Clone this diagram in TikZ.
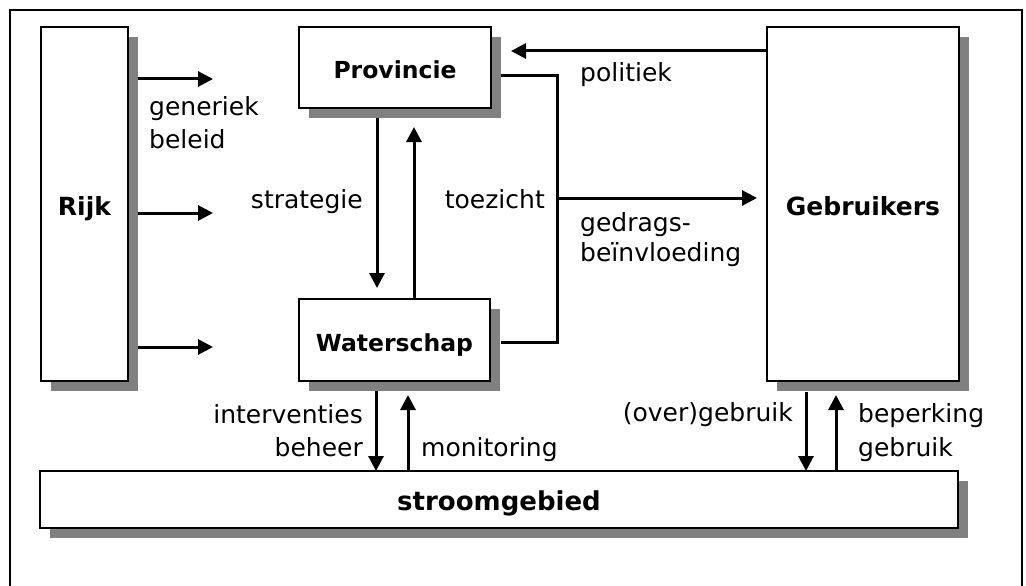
\documentclass[tikz,border=0pt]{standalone}
\usepackage{fontspec}
\setmainfont{DejaVu Sans}
\usetikzlibrary{arrows.meta,shadows}
\definecolor{shadowgray}{HTML}{808080}
\begin{document}
\begin{tikzpicture}[x=1pt,y=-1pt,
  box/.style={draw=black,line width=1.6pt,fill=white,inner sep=0pt,
    text height=22pt,text depth=0pt,
    drop shadow={shadow xshift=10pt,shadow yshift=-10pt,fill=shadowgray,opacity=1}},
  midname/.style={font=\bfseries\fontsize{23.5}{28}\selectfont},
  bigname/.style={font=\bfseries\fontsize{25}{30}\selectfont},
  lbl/.style={inner sep=0pt,font=\fontsize{25}{33}\selectfont},
  arr/.style={line width=3pt,-{Triangle[length=15pt,width=15pt]}},
  conn/.style={line width=3pt},
]
\useasboundingbox (0,0) rectangle (1026,586);
\draw[line width=2.6pt] (10,600) -- (10,10) -- (1022,10) -- (1022,600);

% boxes
\node[box,bigname,minimum width=87pt,minimum height=354pt] (rijk) at (84.5,204) {Rijk};
\node[box,midname,minimum width=192pt,minimum height=81pt] (prov) at (395,67.5) {Provincie};
\node[box,bigname,minimum width=192pt,minimum height=354pt] (geb) at (863,204) {Gebruikers};
\node[box,midname,minimum width=191pt,minimum height=82pt] (water) at (394.5,340) {Waterschap};
\node[box,font=\bfseries\fontsize{26}{30}\selectfont,minimum width=918pt,minimum height=57pt] (stroom) at (499,499.5) {stroomgebied};

% connector end points
\coordinate (r1a) at (138,79);  \coordinate (r1b) at (213,79);
\coordinate (r2a) at (138,213); \coordinate (r2b) at (213,213);
\coordinate (r3a) at (138,347); \coordinate (r3b) at (213,347);
\coordinate (polA) at (geb.west |- 0,51); \coordinate (polB) at (511,51);
\coordinate (tz1) at (501,76); \coordinate (tz2) at (557,76);
\coordinate (tz3) at (557,342); \coordinate (tz4) at (501,342);
\coordinate (gdA) at (557,198); \coordinate (gdB) at (757,198);
\coordinate (stA) at (377,118); \coordinate (stB) at (377,288);
\coordinate (upA) at (414,299); \coordinate (upB) at (414,127);
\coordinate (ivA) at (376,391); \coordinate (ivB) at (376,471);
\coordinate (moA) at (408,471); \coordinate (moB) at (408,395);
\coordinate (ogA) at (806,392); \coordinate (ogB) at (806,471);
\coordinate (bgA) at (836,471); \coordinate (bgB) at (836,395);

% connectors
\draw[arr] (r1a) -- (r1b);
\draw[arr] (r2a) -- (r2b);
\draw[arr] (r3a) -- (r3b);
\draw[arr] (polA) -- (polB);
\draw[conn] (tz1) -- (tz2) -- (tz3) -- (tz4);
\draw[arr] (gdA) -- (gdB);
\draw[arr] (stA) -- (stB);
\draw[arr] (upA) -- (upB);
\draw[arr] (ivA) -- (ivB);
\draw[arr] (moA) -- (moB);
\draw[arr] (ogA) -- (ogB);
\draw[arr] (bgA) -- (bgB);

% labels (base anchor = baseline of last line)
\node[lbl,anchor=base west,align=left] (lgen) at (149,148.3) {generiek\\beleid};
\node[lbl,anchor=base east] (lstrat) at (363,208) {strategie};
\node[lbl,anchor=base east] (ltoez) at (545,208) {toezicht};
\node[lbl,anchor=base west] (lpol) at (580,81.7) {politiek};
\node[lbl,anchor=base west,align=left,font=\fontsize{25}{30}\selectfont] (lged) at (580,261.7) {gedrags-\\beïnvloeding};
\node[lbl,anchor=base east,align=right] (lint) at (363,456) {interventies\\beheer};
\node[lbl,anchor=base west] (lmon) at (421,456) {monitoring};
\node[lbl,anchor=base east] (lover) at (793,421.7) {(over)gebruik};
\node[lbl,anchor=base west,align=left,font=\fontsize{25}{34}\selectfont] (lbep) at (858,456.5) {beperking\\gebruik};
\end{tikzpicture}
\end{document}
